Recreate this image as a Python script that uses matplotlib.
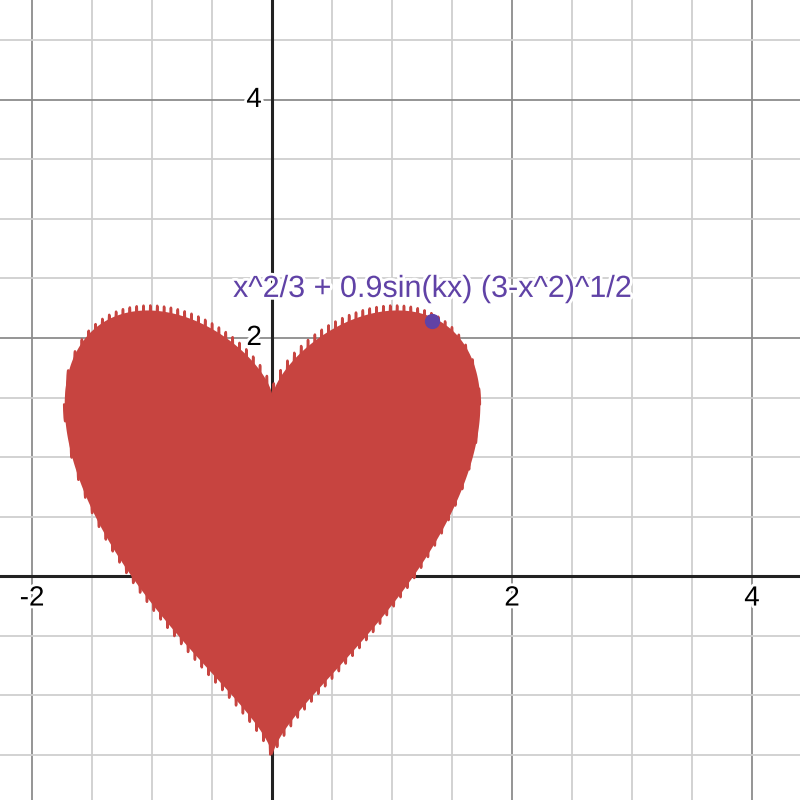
import numpy as np
import matplotlib.pyplot as plt
import matplotlib.patheffects as pe

# heart curve parameters
k = 110.0
amp = 0.9
radius_sq = 3.0
n_samples = 60000

# the purple point and its label
point_x = [1.333]
point_y = [2.143]
label = "x^2/3 + 0.9sin(kx) (3-x^2)^1/2"
label_x = -0.325
label_y = 2.345

# view window and ticks
x_range = (-2.267, 4.4)
y_range = (-1.882, 4.840)
x_ticks = [-2, 2, 4]
y_ticks = [2, 4]

RED = "#c74440"
PURPLE = "#6042a6"

x = np.linspace(-np.sqrt(radius_sq), np.sqrt(radius_sq), n_samples)
base = np.cbrt(x ** 2)
spread = amp * np.sqrt(np.clip(radius_sq - x ** 2, 0, None))
y = base + np.sin(k * x) * spread

fig = plt.figure(figsize=(8, 8), dpi=100)
ax = fig.add_axes([0, 0, 1, 1])
ax.set_xlim(*x_range)
ax.set_ylim(*y_range)
ax.axis("off")

# grid: minor every 0.5, major every 2
for gx in np.arange(-2.5, 5.0, 0.5):
    if gx == 0:
        continue
    major = abs(gx % 2) < 1e-9
    ax.axvline(gx, color="#8c8c8c" if major else "#cfcfcf", lw=1.3, zorder=0)
for gy in np.arange(-2.0, 5.0, 0.5):
    if gy == 0:
        continue
    major = abs(gy % 2) < 1e-9
    ax.axhline(gy, color="#8c8c8c" if major else "#cfcfcf", lw=1.3, zorder=0)

ax.axhline(0, color="#222222", lw=2.2, zorder=1)
ax.axvline(0, color="#222222", lw=2.2, zorder=1)

halo = [pe.withStroke(linewidth=4, foreground="white")]
for t in x_ticks:
    ax.text(t, -0.08, str(t), ha="center", va="top", fontsize=20,
            family="Liberation Sans", color="black", zorder=3, path_effects=halo)
for t in y_ticks:
    ax.text(-0.085, t, str(t), ha="right", va="center", fontsize=20,
            family="Liberation Sans", color="black", zorder=3, path_effects=halo)

# the oscillation is too dense to resolve, so the band between its extremes is filled
ax.fill_between(x, base - 0.97 * spread, base + 0.97 * spread, color=RED, lw=0, zorder=4)
ax.plot(x, y, color=RED, lw=1.8, solid_capstyle="round", zorder=4)

ax.plot(point_x, point_y, "o", color=PURPLE, markersize=10, zorder=5)
ax.text(label_x, label_y, label, ha="left", va="baseline", fontsize=22,
        family="Liberation Sans", color=PURPLE, zorder=6, path_effects=halo)

fig.savefig("out.png", dpi=100)
